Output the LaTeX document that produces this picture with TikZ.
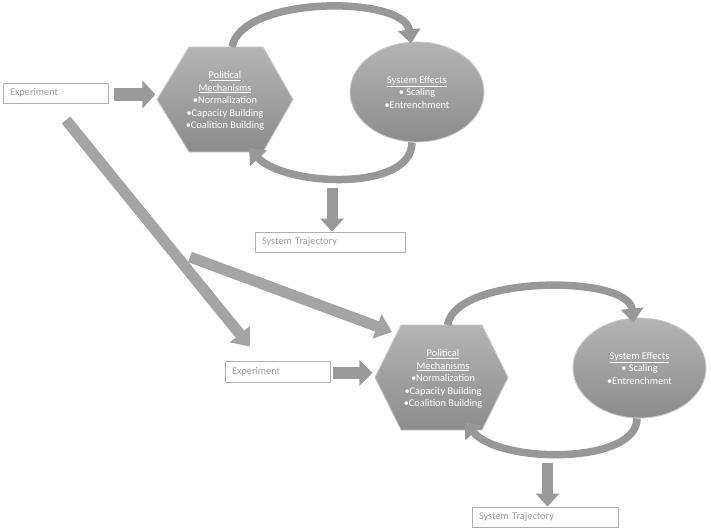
\documentclass[tikz,border=0pt]{standalone}
\usepackage{fontspec}
\setmainfont{Carlito}
\usetikzlibrary{arrows.meta,shapes.geometric,calc}
\definecolor{boxline}{HTML}{B0B0B0}
\definecolor{boxtext}{HTML}{9C9C9C}
\definecolor{shtop}{HTML}{B4B4B4}
\definecolor{shbot}{HTML}{8C8C8C}
\definecolor{shedge}{HTML}{CACACA}
\definecolor{arrcol}{HTML}{9A9A9A}
\definecolor{arccol}{HTML}{989898}
\tikzset{
  txt/.style={font=\fontsize{10.3}{12.5}\selectfont},
  textbox/.style={txt, draw=boxline, line width=0.9pt, fill=white, minimum height=20pt,
    align=left, text=boxtext, inner xsep=7pt, inner ysep=0pt},
  hexshape/.style={top color=shtop, bottom color=shbot, draw=shedge, line width=0.9pt},
  hextext/.style={txt, text=white, align=center, inner sep=0pt},
  ellshape/.style={txt, ellipse, top color=shtop, bottom color=shbot, draw=shedge,
    line width=0.9pt, text=white, align=center, inner sep=0pt,
    minimum width=134pt, minimum height=100pt},
  blockarr/.style={draw=arrcol, line width=#1, -{Triangle[width=2.1*#1, length=13pt]}},
  blockarr/.default=12pt,
  diagarr/.style={draw=arrcol!90!white, line width=11pt, -{Triangle[width=25pt, length=16pt]}},
  arcarr/.style={draw=arccol, line width=7.5pt, -{Triangle[width=22pt, length=14pt]}}
}
\begin{document}
\begin{tikzpicture}[x=1pt,y=-1pt]
\useasboundingbox (0,0) rectangle (711,530);

% ---------- upper group ----------
\node[textbox, text width=91pt] (exp1) at (55.5,93) {Experiment};
\node[textbox, text width=136pt] (traj1) at (330,242) {System Trajectory};

\path[hexshape] (157,99.5) coordinate (h1w) -- (189,47) -- (263,47) -- (293,99.5)
  -- (263,152) -- (189,152) -- cycle;
\coordinate (h1n) at (225,47);
\coordinate (h1s) at (225,152);
\node[hextext] (hex1) at (225,101)
  {\underline{Political}\\\underline{Mechanisms}\\•Normalization\\•Capacity Building\\•Coalition Building};

\node[ellshape] (ell1) at (417,92) {\underline{System Effects}\\• Scaling\\•Entrenchment};

\draw[blockarr=13pt] ([xshift=6pt,yshift=-1.5pt]exp1.east) -- ([xshift=47pt,yshift=-1.5pt]exp1.east);
\draw[arcarr] ([xshift=7pt]h1n) .. controls +(10,-52) and +(-6,-48) .. ([xshift=-6pt,yshift=-2pt]ell1.north);
\draw[arcarr] ([xshift=-5pt]ell1.south) .. controls +(0,50) and +(35,38) .. ([xshift=24pt,yshift=4pt]h1s);
\draw[blockarr=11pt] ([shift={(2pt,44pt)}]traj1.north) -- ([xshift=2pt]traj1.north);

% ---------- lower group ----------
\node[textbox, text width=91pt, minimum height=21pt] (exp2) at (277.5,371.5) {Experiment};
\node[textbox, text width=132pt] (traj2) at (545,517) {System Trajectory};

\path[hexshape] (375,377.5) coordinate (h2w) -- (401,325) coordinate (h2nw) -- (482,325) -- (508,377.5)
  -- (482,430) -- (401,430) -- cycle;
\coordinate (h2n) at (441.5,325);
\coordinate (h2s) at (441.5,430);
\node[hextext] (hex2) at (443,379)
  {\underline{Political}\\\underline{Mechanisms}\\•Normalization\\•Capacity Building\\•Coalition Building};

\node[ellshape, minimum width=133pt] (ell2) at (639.5,368) {\underline{System Effects}\\• Scaling\\•Entrenchment};

\draw[blockarr=12pt] ([xshift=3pt,yshift=-1.5pt]exp2.east) -- ([xshift=42pt,yshift=-1.5pt]exp2.east);
\draw[arcarr] ([xshift=6pt]h2n) .. controls +(8,-50) and +(-5,-48) .. ([xshift=-6pt,yshift=-5pt]ell2.north);
\draw[arcarr] ([xshift=-2.5pt]ell2.south) .. controls +(0,46) and +(35,42) .. ([xshift=23.5pt,yshift=8pt]h2s);
\draw[blockarr=11pt] ([shift={(2.5pt,44pt)}]traj2.north) -- ([xshift=2.5pt]traj2.north);

% ---------- links between groups ----------
\coordinate (d1s) at (66,120);
\coordinate (d2s) at (190,257);
\draw[diagarr] (d1s) -- ([shift={(-27.5pt,14pt)}]exp2.north);
\draw[diagarr] (d2s) -- ([shift={(-9pt,-7pt)}]h2nw);
\end{tikzpicture}
\end{document}
